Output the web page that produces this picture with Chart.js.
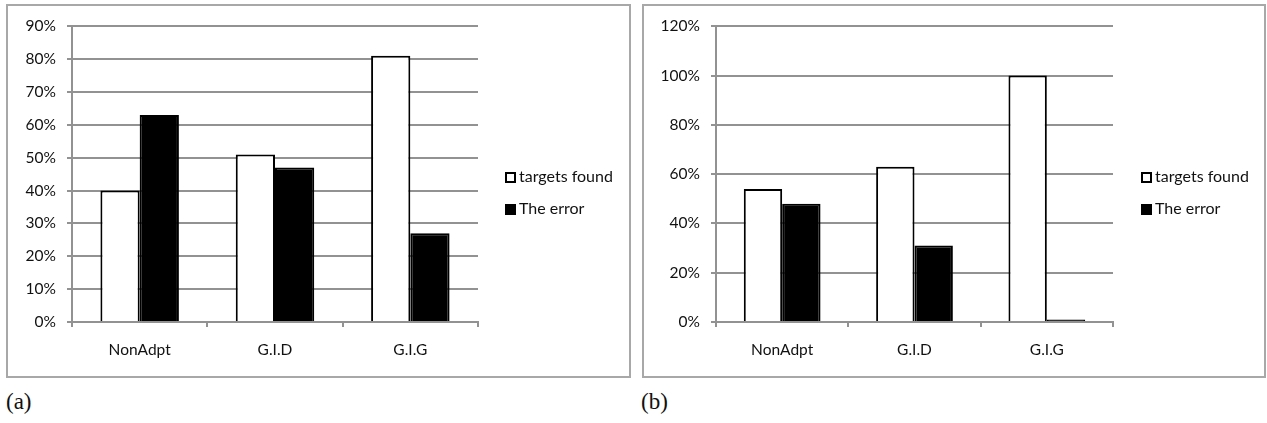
<!DOCTYPE html>
<html>
<head>
<meta charset="utf-8">
<script src="https://cdn.jsdelivr.net/npm/chart.js@4.4.1/dist/chart.umd.min.js"></script>
<style>
  body { margin: 0; background: #fff; width: 1267px; height: 423px; position: relative; overflow: hidden; }
  .panel { position: absolute; top: 4px; height: 370px; border: 2px solid #a8a8a8; background: #fff; }
  .panel canvas { position: absolute; left: 0; top: 0; }
  .legend { position: absolute; left: 497px; top: 162px; font: 16px Lato, sans-serif; color: #111; }
  .legend div { height: 32px; line-height: 15px; white-space: nowrap; }
  .legend span.box { display: inline-block; width: 11px; height: 11px; box-sizing: border-box; border: 2px solid #000; margin-right: 3px; vertical-align: -1px; }
  .caption { position: absolute; top: 389px; font: 23px "Liberation Serif", serif; color: #111; }
</style>
</head>
<body>
<div class="panel" id="pa" style="left:6px;width:621px;">
  <canvas id="chartA" width="621" height="370"></canvas>
  <div class="legend" id="legA"></div>
</div>
<div class="panel" id="pb" style="left:642px;width:620px;">
  <canvas id="chartB" width="620" height="370"></canvas>
  <div class="legend" id="legB"></div>
</div>
<div class="caption" style="left:6px;">(a)</div>
<div class="caption" style="left:641px;">(b)</div>
<script>
// categories and series
const categories = ['NonAdpt', 'G.I.D', 'G.I.G'];
const seriesNames = ['targets found', 'The error'];

// chart (a)
const targetsFoundA = [40, 51, 81];
const theErrorA = [63, 47, 27];
const maxA = 90, stepA = 10;

// chart (b)
const targetsFoundB = [54, 63, 100];
const theErrorB = [48, 31, 1];
const maxB = 120, stepB = 20;

const fills = ['#ffffff', '#000000'];
const gridColor = '#929292';

function makeChart(id, found, err, max, step, yWidth) {
    const ctx = document.getElementById(id).getContext('2d');
    return new Chart(ctx, {
        type: 'bar',
        data: {
            labels: categories,
            datasets: [found, err].map((d, i) => ({
                label: seriesNames[i],
                data: d,
                backgroundColor: fills[i],
                borderColor: '#000',
                borderWidth: 2,
                categoryPercentage: 0.58,
                barPercentage: 1.0
            }))
        },
        options: {
            responsive: false,
            devicePixelRatio: 1,
            animation: false,
            layout: { padding: { top: 17, right: 151, bottom: 0, left: 0 } },
            plugins: { legend: { display: false }, tooltip: { enabled: false } },
            scales: {
                x: {
                    grid: { drawOnChartArea: false, tickLength: 5, color: gridColor, lineWidth: 2 },
                    border: { color: gridColor, width: 2 },
                    ticks: { font: { family: 'Lato', size: 15.5 }, color: '#111', padding: 14 },
                    afterFit: s => { s.height = 54; }
                },
                y: {
                    min: 0,
                    max: max,
                    ticks: {
                        stepSize: step,
                        callback: v => v + '%',
                        font: { family: 'Lato', size: 15.5 },
                        color: '#111',
                        padding: 11
                    },
                    grid: { color: gridColor, lineWidth: 2, tickLength: 5 },
                    border: { color: gridColor, width: 2 },
                    afterFit: s => { s.width = yWidth; }
                }
            }
        }
    });
}

function makeLegend(id) {
    const el = document.getElementById(id);
    seriesNames.forEach((name, i) => {
        const row = document.createElement('div');
        const box = document.createElement('span');
        box.className = 'box';
        box.style.background = fills[i];
        row.appendChild(box);
        row.appendChild(document.createTextNode(name));
        el.appendChild(row);
    });
}

makeChart('chartA', targetsFoundA, theErrorA, maxA, stepA, 64);
makeChart('chartB', targetsFoundB, theErrorB, maxB, stepB, 72);
makeLegend('legA');
makeLegend('legB');
</script>
</body>
</html>
